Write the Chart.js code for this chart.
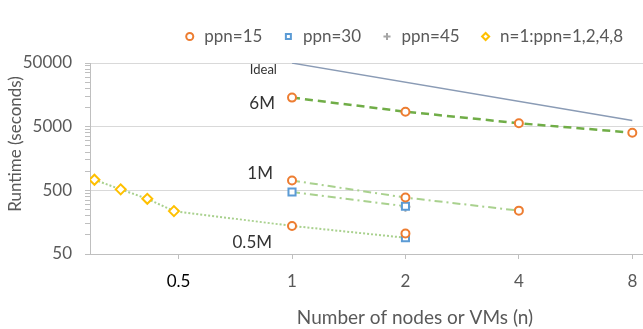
<!DOCTYPE html>
<html>
<head>
<meta charset="utf-8">
<script src="https://cdn.jsdelivr.net/npm/chart.js@4"></script>
<style>
  html, body { margin: 0; padding: 0; background: #fff; }
  #wrap { width: 643px; height: 329px; }
</style>
</head>
<body>
<div id="wrap"><canvas id="chart"></canvas></div>
<script>
// runtimes in seconds
const nodes6M = [1, 2, 4, 8];
const runtime6M = [14300, 8600, 5660, 4020];      // ppn=15
const nodes1M = [1, 2, 4];
const runtime1M15 = [714, 385, 240];              // ppn=15
const runtime1M30 = [472, 282];                   // ppn=30, n=1,2
const runtime1M45 = [275];                        // ppn=45, n=2
const nodes05M = [1, 2];
const runtime05M15 = [138, 105];                  // ppn=15
const runtime05M30 = [90];                        // ppn=30, n=2
const singleX = [0.299, 0.351, 0.413, 0.486];     // n=1, ppn=1,2,4,8
const singleRuntime = [733, 518, 368, 236];
const idealNodes = [1, 8];
const idealRuntime = [50000, 6250];

const xTicks = [0.5, 1, 2, 4, 8];
const yMajor = [50, 500, 5000, 50000];
const yMinorSteps = [2, 3, 4, 5, 6, 7, 8, 9];

const notes = ['Ideal', '6M', '1M', '0.5M'];
const noteX = [0.912, 0.901, 0.890, 0.885];
const noteY = [38500, 11400, 907, 77];

const pts = (xs, ys) => ys.map((y, i) => ({ x: xs[i], y }));

const ppn15 = [
  ...pts(nodes6M, runtime6M),
  ...pts(nodes1M, runtime1M15),
  ...pts(nodes05M, runtime05M15)
];
const ppn30 = [...pts(nodes1M, runtime1M30), ...pts([2], runtime05M30)];
const ppn45 = pts([2], runtime1M45);
const single = pts(singleX, singleRuntime);

const yTicks = [];
yMajor.forEach((m, i) => {
  yTicks.push(m);
  if (i < yMajor.length - 1) yMinorSteps.forEach((k) => yTicks.push(m * k));
});

const FONT = 'Lato';
const GREY = '#595959';

function marker(label, data, style, color, radius) {
  return {
    label, data, showLine: false, order: 0,
    pointStyle: style, pointRadius: radius, pointBorderWidth: 2,
    borderColor: color, backgroundColor: '#fff', borderWidth: 2,
    pointBackgroundColor: '#fff', pointBorderColor: color
  };
}

function line(data, color, width, dash) {
  return {
    label: '', data, showLine: true, order: 1, pointRadius: 0,
    borderColor: color, borderWidth: width, borderDash: dash, fill: false
  };
}

// a bit more room under the legend
const legendGap = {
  id: 'legendGap',
  beforeInit(chart) {
    const fit = chart.legend.fit;
    chart.legend.fit = function () {
      fit.bind(chart.legend)();
      this.height += 8;
    };
  }
};

const textPlugin = {
  id: 'texts',
  afterDraw(chart) {
    const { ctx, scales: { x, y } } = chart;
    ctx.save();
    ctx.fillStyle = '#333';
    ctx.textAlign = 'right';
    ctx.textBaseline = 'middle';
    notes.forEach((t, i) => {
      ctx.font = (i === 0 ? '13px ' : '17px ') + FONT;
      ctx.fillText(t, x.getPixelForValue(noteX[i]), y.getPixelForValue(noteY[i]));
    });
    ctx.fillStyle = GREY;
    ctx.font = '19px ' + FONT;
    ctx.textAlign = 'center';
    ctx.fillText('Number of nodes or VMs (n)', 415, 318);
    ctx.font = '17px ' + FONT;
    ctx.translate(16, 144);
    ctx.rotate(-Math.PI / 2);
    ctx.fillText('Runtime (seconds)', 0, 0);
    ctx.restore();
  }
};

new Chart(document.getElementById('chart'), {
  type: 'scatter',
  data: {
    datasets: [
      marker('ppn=15', ppn15, 'circle', '#ED7D31', 4),
      marker('ppn=30', ppn30, 'rect', '#5B9BD5', 5),
      marker('ppn=45', ppn45, 'cross', '#A5A5A5', 5),
      marker('n=1:ppn=1,2,4,8', single, 'rectRot', '#FFC000', 5),
      line(pts(idealNodes, idealRuntime), '#8A9BB5', 1.3, []),
      line(pts(nodes6M, runtime6M), '#70AD47', 2.5, [8, 5]),
      line(pts(nodes1M, runtime1M15), '#A9D18E', 2, [8, 4, 2, 4]),
      line(pts(nodes1M, runtime1M30), '#A9D18E', 2, [8, 4, 2, 4]),
      line([...single, ...pts([1], [runtime05M15[0]]), ...pts([2], runtime05M30)], '#A9D18E', 2, [2, 2])
    ]
  },
  options: {
    responsive: true,
    maintainAspectRatio: false,
    animation: false,
    layout: { autoPadding: false, padding: { top: 8, left: 0, right: 0, bottom: 0 } },
    plugins: {
      tooltip: { enabled: false },
      legend: {
        position: 'top',
        align: 'end',
        labels: {
          filter: (item) => item.datasetIndex < 4,
          usePointStyle: true,
          boxWidth: 12,
          boxHeight: 5,
          padding: 20,
          color: GREY,
          font: { family: FONT, size: 17 }
        }
      }
    },
    scales: {
      x: {
        type: 'logarithmic',
        bounds: 'data',
        min: 0.291,
        max: 8.54,
        afterBuildTicks: (s) => { s.ticks = xTicks.map((v) => ({ value: v })); },
        afterFit: (s) => { s.height = 75; s.paddingRight = 0; s.paddingLeft = 0; },
        grid: { drawOnChartArea: false, tickLength: 5, tickColor: '#BFBFBF' },
        border: { color: '#BFBFBF' },
        ticks: {
          autoSkip: false, maxRotation: 0, padding: 12,
          color: (c) => (c.tick && c.tick.value === 0.5 ? '#000' : GREY),
          font: { family: FONT, size: 17 },
          callback: (v) => String(v)
        }
      },
      y: {
        type: 'logarithmic',
        bounds: 'data',
        min: 50,
        max: 50000,
        afterBuildTicks: (s) => { s.ticks = yTicks.map((v) => ({ value: v })); },
        afterFit: (s) => { s.width = 90; },
        grid: {
          tickLength: 5,
          color: (c) => (c.tick && yMajor.includes(c.tick.value) ? '#D9D9D9' : 'rgba(0,0,0,0)'),
          tickColor: '#BFBFBF'
        },
        border: { color: '#BFBFBF' },
        ticks: {
          autoSkip: false, padding: 13, color: GREY,
          font: { family: FONT, size: 17 },
          callback: (v) => (yMajor.includes(v) ? String(v) : '')
        }
      }
    }
  },
  plugins: [legendGap, textPlugin]
});
</script>
</body>
</html>
